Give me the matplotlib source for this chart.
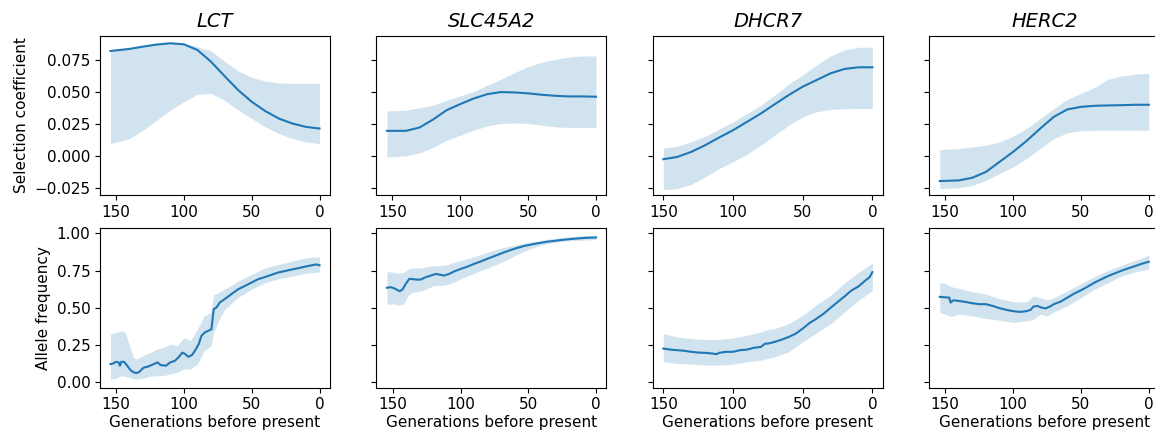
import matplotlib
matplotlib.use("Agg")
import matplotlib.pyplot as plt

genes = ["LCT", "SLC45A2", "DHCR7", "HERC2"]

# ---- Selection coefficient (top row) ----
s_gen = [154, 140, 130, 120, 110, 100, 90, 80, 70, 60, 50, 40, 30, 20, 10, 0]
s_gen_dhcr7 = [150, 140, 130, 120, 110, 100, 90, 80, 70, 60, 50, 40, 30, 20, 10, 0]

lct_s_mean = [0.0820, 0.0836, 0.0854, 0.0870, 0.0880, 0.0872, 0.0828, 0.0737, 0.0625, 0.0516, 0.0425, 0.0352, 0.0294, 0.0255, 0.0229, 0.0216]
lct_s_upper = [0.0825, 0.0840, 0.0858, 0.0875, 0.0885, 0.0882, 0.0852, 0.0822, 0.0740, 0.0665, 0.0615, 0.0585, 0.0571, 0.0568, 0.0568, 0.0568]
lct_s_lower = [0.0099, 0.0138, 0.0203, 0.0281, 0.0359, 0.0424, 0.0482, 0.0490, 0.0437, 0.0359, 0.0294, 0.0229, 0.0177, 0.0138, 0.0112, 0.0099]

slc_s_mean = [0.0198, 0.0198, 0.0224, 0.0286, 0.0359, 0.0406, 0.0450, 0.0484, 0.0500, 0.0497, 0.0490, 0.0479, 0.0471, 0.0466, 0.0466, 0.0464]
slc_s_upper = [0.0352, 0.0359, 0.0378, 0.0398, 0.0437, 0.0471, 0.0503, 0.0555, 0.0599, 0.0651, 0.0698, 0.0732, 0.0755, 0.0773, 0.0781, 0.0781]
slc_s_lower = [-0.0005, 0.0003, 0.0026, 0.0068, 0.0125, 0.0164, 0.0203, 0.0237, 0.0255, 0.0260, 0.0255, 0.0242, 0.0229, 0.0224, 0.0224, 0.0224]

dhcr7_s_mean = [-0.0023, -0.0005, 0.0034, 0.0086, 0.0146, 0.0203, 0.0268, 0.0333, 0.0406, 0.0477, 0.0542, 0.0594, 0.0646, 0.0680, 0.0693, 0.0693]
dhcr7_s_upper = [0.0065, 0.0078, 0.0112, 0.0156, 0.0211, 0.0268, 0.0333, 0.0398, 0.0477, 0.0563, 0.0633, 0.0711, 0.0781, 0.0828, 0.0849, 0.0849]
dhcr7_s_lower = [-0.0260, -0.0253, -0.0219, -0.0161, -0.0096, -0.0044, 0.0016, 0.0086, 0.0164, 0.0242, 0.0307, 0.0346, 0.0365, 0.0370, 0.0372, 0.0372]

herc2_s_mean = [-0.0193, -0.0188, -0.0167, -0.0122, -0.0044, 0.0034, 0.0120, 0.0216, 0.0307, 0.0365, 0.0385, 0.0393, 0.0396, 0.0398, 0.0401, 0.0401]
herc2_s_upper = [0.0052, 0.0060, 0.0073, 0.0086, 0.0112, 0.0156, 0.0216, 0.0294, 0.0372, 0.0443, 0.0490, 0.0536, 0.0599, 0.0625, 0.0640, 0.0646]
herc2_s_lower = [-0.0253, -0.0245, -0.0227, -0.0188, -0.0135, -0.0083, -0.0018, 0.0060, 0.0138, 0.0182, 0.0198, 0.0203, 0.0203, 0.0203, 0.0203, 0.0203]

# ---- Allele frequency (bottom row) ----
lct_f_gen = [154, 152, 150, 148, 147, 146, 144, 142, 139.5, 137, 134.6, 132.7, 129.7, 126, 122, 119.4, 117, 113, 110, 106.5, 104, 101, 99, 96.7, 94, 91.8, 89, 87, 84.5, 82, 79.6, 78, 76, 73.5, 70, 65, 60, 52.7, 45.4, 38, 30.7, 23.4, 16, 8.6, 2.4, 0]
lct_f_mean = [0.123, 0.127, 0.138, 0.134, 0.112, 0.138, 0.138, 0.116, 0.085, 0.067, 0.0625, 0.071, 0.098, 0.107, 0.123, 0.134, 0.116, 0.112, 0.134, 0.145, 0.167, 0.200, 0.190, 0.172, 0.183, 0.212, 0.257, 0.3125, 0.335, 0.346, 0.357, 0.491, 0.502, 0.536, 0.558, 0.592, 0.625, 0.658, 0.692, 0.714, 0.737, 0.752, 0.766, 0.781, 0.792, 0.786]
lct_band_gen = [154, 150, 146, 143, 140, 137, 135, 130, 125, 120, 115, 110, 105, 100, 95, 90, 85, 80, 78, 75, 70, 60, 50, 40, 30, 20, 10, 0]
lct_f_upper = [0.324, 0.335, 0.346, 0.335, 0.245, 0.167, 0.156, 0.179, 0.200, 0.223, 0.234, 0.257, 0.245, 0.300, 0.280, 0.357, 0.446, 0.469, 0.590, 0.600, 0.625, 0.680, 0.725, 0.770, 0.792, 0.815, 0.837, 0.844]
lct_f_lower = [0.022, 0.027, 0.045, 0.040, 0.033, 0.025, 0.022, 0.027, 0.040, 0.045, 0.045, 0.056, 0.067, 0.089, 0.089, 0.123, 0.212, 0.245, 0.335, 0.400, 0.490, 0.570, 0.625, 0.670, 0.696, 0.714, 0.732, 0.741]

slc_f_gen = [154.6, 151.7, 149.3, 147, 145, 143, 140.7, 138, 137, 133, 129.6, 126, 122, 118.6, 116, 112.4, 108.6, 105, 100, 95, 90.3, 85.4, 80.5, 75.6, 68, 61, 53.5, 46, 36.4, 26.5, 16.7, 6.9, 0]
slc_f_mean = [0.635, 0.639, 0.632, 0.621, 0.612, 0.624, 0.661, 0.695, 0.695, 0.690, 0.690, 0.706, 0.717, 0.728, 0.724, 0.717, 0.728, 0.744, 0.762, 0.777, 0.795, 0.811, 0.829, 0.846, 0.873, 0.895, 0.915, 0.929, 0.944, 0.955, 0.964, 0.971, 0.973]
slc_band_gen = [154.6, 150, 146, 142, 140, 138, 135, 130, 125, 120, 115, 110, 105, 100, 90, 80, 70, 60, 50, 40, 30, 20, 10, 0]
slc_f_upper = [0.744, 0.739, 0.733, 0.740, 0.750, 0.768, 0.768, 0.768, 0.777, 0.784, 0.784, 0.790, 0.806, 0.817, 0.844, 0.873, 0.902, 0.922, 0.940, 0.955, 0.967, 0.978, 0.984, 0.984]
slc_f_lower = [0.523, 0.528, 0.517, 0.528, 0.568, 0.590, 0.606, 0.612, 0.628, 0.650, 0.650, 0.657, 0.673, 0.695, 0.733, 0.768, 0.806, 0.851, 0.891, 0.924, 0.940, 0.951, 0.955, 0.958]

dhcr7_f_gen = [150, 145, 140, 135, 130, 125, 120, 115, 112, 110, 105, 100, 95, 90, 85, 80, 77, 75, 70, 65, 60, 55, 50, 45, 40, 35, 30, 25, 20, 15, 10, 5, 2, 0]
dhcr7_f_mean = [0.227, 0.220, 0.216, 0.212, 0.205, 0.200, 0.198, 0.194, 0.189, 0.198, 0.205, 0.205, 0.216, 0.220, 0.232, 0.238, 0.260, 0.260, 0.272, 0.287, 0.305, 0.327, 0.361, 0.399, 0.428, 0.461, 0.501, 0.539, 0.577, 0.617, 0.644, 0.684, 0.706, 0.740]
dhcr7_band_gen = [150, 140, 130, 120, 110, 100, 90, 80, 75, 70, 60, 50, 40, 30, 20, 10, 0]
dhcr7_f_upper = [0.327, 0.305, 0.294, 0.287, 0.289, 0.298, 0.316, 0.339, 0.354, 0.361, 0.394, 0.450, 0.523, 0.584, 0.666, 0.739, 0.800]
dhcr7_f_lower = [0.138, 0.127, 0.122, 0.116, 0.116, 0.122, 0.138, 0.149, 0.160, 0.171, 0.205, 0.272, 0.332, 0.394, 0.472, 0.550, 0.617]

herc2_f_gen = [154, 150, 147, 146, 144, 140, 135, 130, 125, 120, 115, 110, 105, 100, 95, 90, 87, 85, 82, 79, 76, 72, 70, 65, 60, 55, 50, 45, 40, 35, 30, 25, 20, 15, 10, 5, 0]
herc2_f_mean = [0.574, 0.571, 0.569, 0.536, 0.551, 0.547, 0.540, 0.531, 0.525, 0.525, 0.513, 0.498, 0.487, 0.478, 0.473, 0.478, 0.487, 0.509, 0.513, 0.502, 0.496, 0.513, 0.525, 0.542, 0.569, 0.596, 0.618, 0.643, 0.670, 0.692, 0.714, 0.732, 0.750, 0.766, 0.781, 0.797, 0.810]
herc2_band_gen = [154, 150, 146, 140, 130, 120, 110, 100, 90, 85, 80, 75, 70, 60, 50, 40, 30, 20, 10, 0]
herc2_f_upper = [0.670, 0.665, 0.643, 0.632, 0.609, 0.592, 0.5625, 0.542, 0.540, 0.580, 0.569, 0.554, 0.569, 0.614, 0.663, 0.710, 0.752, 0.786, 0.819, 0.855]
herc2_f_lower = [0.469, 0.458, 0.442, 0.458, 0.446, 0.429, 0.417, 0.402, 0.413, 0.424, 0.458, 0.446, 0.473, 0.513, 0.569, 0.625, 0.670, 0.714, 0.741, 0.763]

top_data = [
    (s_gen, lct_s_mean, lct_s_lower, lct_s_upper),
    (s_gen, slc_s_mean, slc_s_lower, slc_s_upper),
    (s_gen_dhcr7, dhcr7_s_mean, dhcr7_s_lower, dhcr7_s_upper),
    (s_gen, herc2_s_mean, herc2_s_lower, herc2_s_upper),
]
bottom_data = [
    (lct_f_gen, lct_f_mean, lct_band_gen, lct_f_lower, lct_f_upper),
    (slc_f_gen, slc_f_mean, slc_band_gen, slc_f_lower, slc_f_upper),
    (dhcr7_f_gen, dhcr7_f_mean, dhcr7_band_gen, dhcr7_f_lower, dhcr7_f_upper),
    (herc2_f_gen, herc2_f_mean, herc2_band_gen, herc2_f_lower, herc2_f_upper),
]

plt.rcParams["font.size"] = 11
plt.rcParams["xtick.labelsize"] = 11
plt.rcParams["ytick.labelsize"] = 11
plt.rcParams["axes.labelsize"] = 11

color = "#1f77b4"
fig, axes = plt.subplots(2, 4, figsize=(11.55, 4.38), dpi=100, sharey="row")
fig.subplots_adjust(left=0.0866, right=1.0037, bottom=0.1148, top=0.9185,
                    wspace=0.202, hspace=0.209)

for j, gene in enumerate(genes):
    ax = axes[0, j]
    g, m, lo, up = top_data[j]
    ax.fill_between(g, lo, up, color=color, alpha=0.2, linewidth=0)
    ax.plot(g, m, color=color, lw=1.5)
    ax.set_title(gene, fontsize=14, fontstyle="italic")
    ax.set_xlim(max(g) * 1.05, -max(g) * 0.05)
    ax.set_xticks([150, 100, 50, 0])

    ax = axes[1, j]
    g, m, bg, lo, up = bottom_data[j]
    ax.fill_between(bg, lo, up, color=color, alpha=0.2, linewidth=0)
    ax.plot(g, m, color=color, lw=1.5)
    ax.set_xlim(max(g) * 1.05, -max(g) * 0.05)
    ax.set_xticks([150, 100, 50, 0])
    ax.set_xlabel("Generations before present", labelpad=2)

axes[0, 0].set_ylim(-0.0302, 0.0939)
axes[0, 0].set_yticks([-0.025, 0.0, 0.025, 0.05, 0.075])
axes[0, 0].set_ylabel("Selection coefficient")
axes[1, 0].set_ylim(-0.036, 1.034)
axes[1, 0].set_yticks([0.0, 0.25, 0.5, 0.75, 1.0])
axes[1, 0].set_ylabel("Allele frequency")

fig.savefig("out.png", dpi=100)
